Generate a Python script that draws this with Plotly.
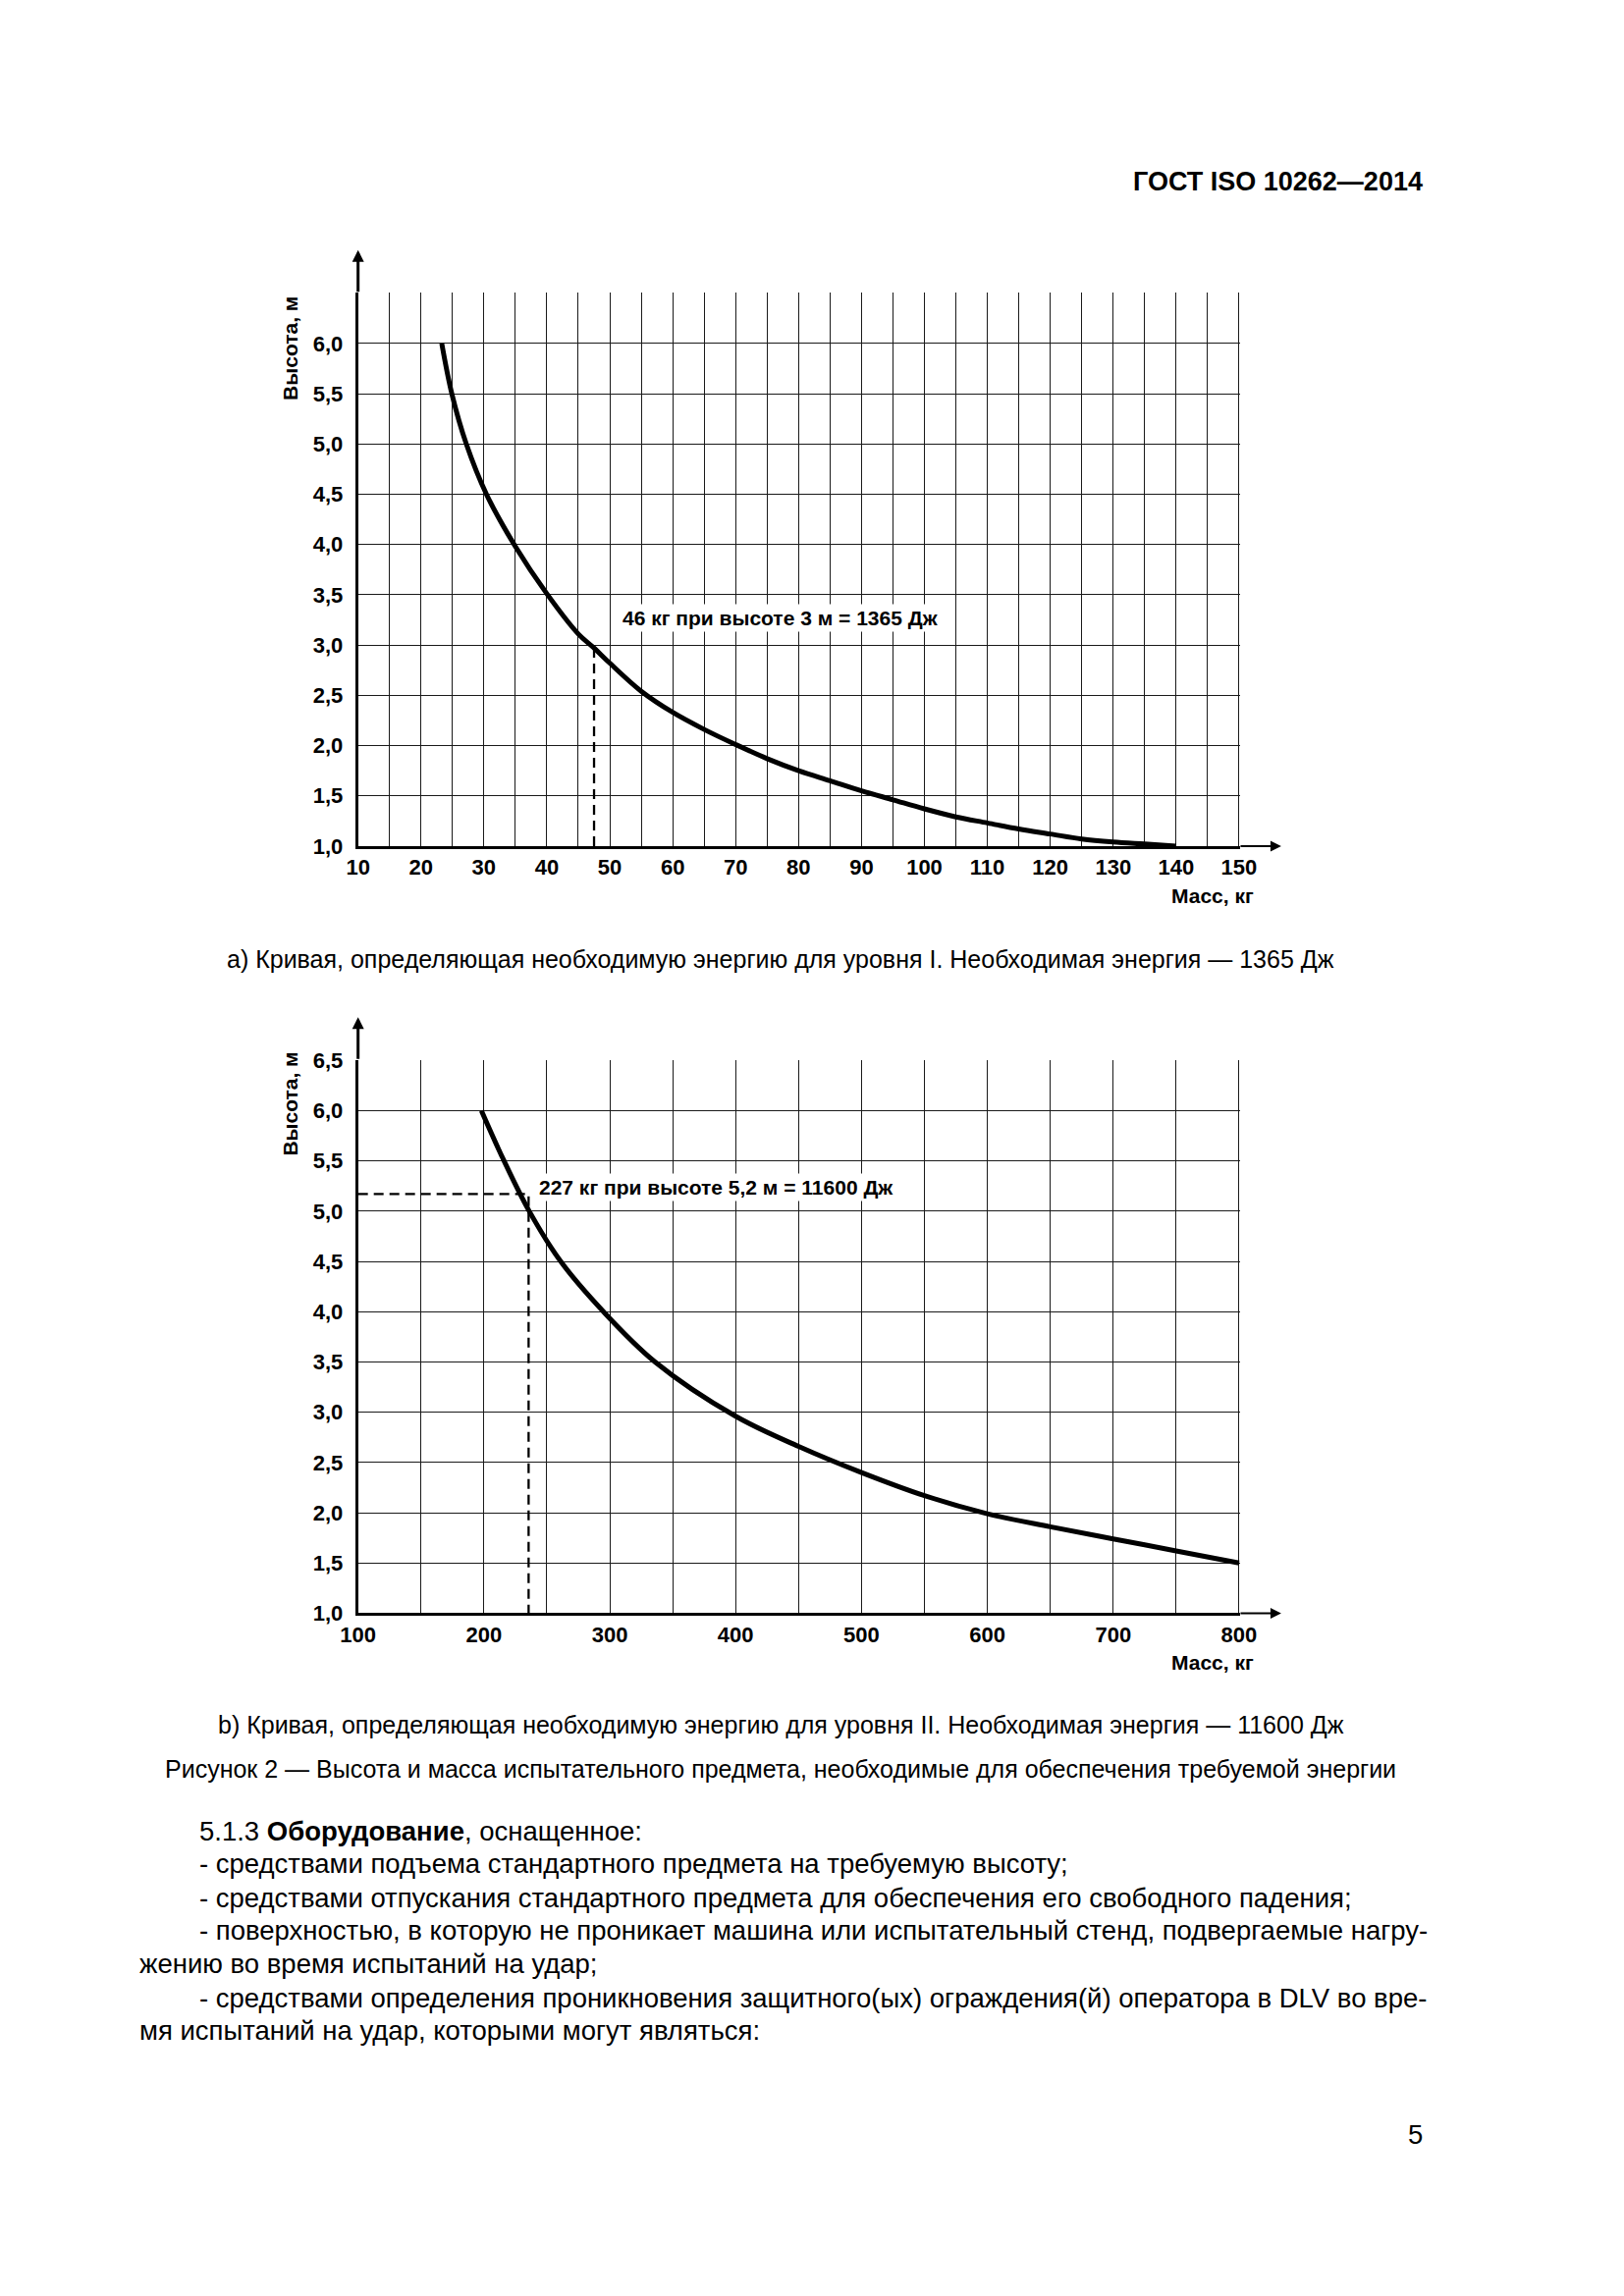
import plotly.graph_objects as go

W, H = 1654, 2339

# ---------------- data: chart a (level I, 1365 J) ----------------
mass_a = [23.3, 24.9, 27.2, 30.4, 35.0, 40.0, 45.0, 47.5, 50.0, 55.0, 60.0, 65.0,
          70.0, 75.0, 80.0, 85.0, 90.0, 95.0, 100.0, 105.0, 110.0, 115.0, 120.0,
          125.0, 130.0, 135.0, 140.0]
height_a = [6.0, 5.5, 5.0, 4.5, 3.98, 3.51, 3.11, 2.97, 2.82, 2.54, 2.33, 2.16,
            2.01, 1.87, 1.75, 1.65, 1.55, 1.46, 1.37, 1.29, 1.23, 1.17, 1.12,
            1.07, 1.04, 1.02, 1.0]
guide_a_mass = 47.5
guide_a_height = 2.97
label_a = "46 кг при высоте 3 м = 1365 Дж"
label_a_pos = (51.5, 3.27)

# ---------------- data: chart b (level II, 11600 J) ----------------
mass_b = [198, 216, 236, 261, 295, 336, 400, 450, 500, 550, 600, 650, 700, 750, 800]
height_b = [6.0, 5.5, 5.0, 4.5, 4.0, 3.5, 2.96, 2.66, 2.40, 2.17, 1.99, 1.86,
            1.74, 1.62, 1.50]
guide_b_mass = 235.5
guide_b_height = 5.17
label_b = "227 кг при высоте 5,2 м = 11600 Дж"
label_b_pos = (241.8, 5.24)

# ---------------- tick labels ----------------
x_ticks_a = [10, 20, 30, 40, 50, 60, 70, 80, 90, 100, 110, 120, 130, 140, 150]
x_ticks_b = [100, 200, 300, 400, 500, 600, 700, 800]
y_vals = [1.0, 1.5, 2.0, 2.5, 3.0, 3.5, 4.0, 4.5, 5.0, 5.5, 6.0, 6.5]
y_text_a = ["1,0", "1,5", "2,0", "2,5", "3,0", "3,5", "4,0", "4,5", "5,0", "5,5", "6,0", ""]
y_text_b = ["1,0", "1,5", "2,0", "2,5", "3,0", "3,5", "4,0", "4,5", "5,0", "5,5", "6,0", "6,5"]

FONT = "Liberation Sans, Arial, sans-serif"
GRID = "#1a1a1a"

def px(x):
    return x / W

def py(y):
    return 1 - y / H

X0, X1 = 346, 1264
A_TOP, A_BOT = 281, 851
B_TOP, B_BOT = 1071, 1641

fig = go.Figure()

fig.add_trace(go.Scatter(x=mass_a, y=height_a, mode="lines", xaxis="x", yaxis="y",
                         line=dict(color="black", width=5, shape="spline", smoothing=1.0),
                         hoverinfo="skip"))
fig.add_trace(go.Scatter(x=[guide_a_mass, guide_a_mass], y=[1.0, guide_a_height], mode="lines",
                         xaxis="x", yaxis="y",
                         line=dict(color="black", width=2.3, dash="10px,6px")))

fig.add_trace(go.Scatter(x=mass_b, y=height_b, mode="lines", xaxis="x2", yaxis="y2",
                         line=dict(color="black", width=5, shape="spline", smoothing=1.0),
                         hoverinfo="skip"))
fig.add_trace(go.Scatter(x=[100, guide_b_mass, guide_b_mass], y=[guide_b_height, guide_b_height, 1.0],
                         mode="lines", xaxis="x2", yaxis="y2",
                         line=dict(color="black", width=2.3, dash="10px,6px")))

tickfont = dict(family=FONT, size=22, color="black", weight="bold")

common_x = dict(showline=True, linewidth=3, linecolor="black", showgrid=True,
                gridcolor=GRID, gridwidth=1.4, zeroline=False, ticks="",
                tickfont=tickfont, fixedrange=True, tickmode="linear")
common_y = dict(showline=True, linewidth=3, linecolor="black", showgrid=True,
                gridcolor=GRID, gridwidth=1.4, zeroline=False, ticks="",
                tickfont=tickfont, fixedrange=True, tickmode="array", tickvals=y_vals,
                ticklabelstandoff=8)

fig.update_layout(
    width=W, height=H, margin=dict(l=0, r=0, t=0, b=0),
    paper_bgcolor="white", plot_bgcolor="white", showlegend=False,
    xaxis=dict(common_x, domain=[px(X0), px(X1)], range=[10, 150.2], tick0=x_ticks_a[0],
               dtick=x_ticks_a[1] - x_ticks_a[0], anchor="y",
               minor=dict(dtick=5, tick0=10, showgrid=True, gridcolor=GRID, gridwidth=1.4, ticks="")),
    yaxis=dict(common_y, domain=[py(A_BOT), py(A_TOP)], range=[1.0, 6.507], ticktext=y_text_a,
               anchor="x"),
    xaxis2=dict(common_x, domain=[px(X0), px(X1)], range=[100, 801], tick0=x_ticks_b[0],
                dtick=x_ticks_b[1] - x_ticks_b[0], anchor="y2",
                minor=dict(dtick=50, tick0=100, showgrid=True, gridcolor=GRID, gridwidth=1.4, ticks="")),
    yaxis2=dict(common_y, domain=[py(B_BOT), py(B_TOP)], range=[1.0, 6.507], ticktext=y_text_b,
                anchor="x2"),
)

ann = []
for xr, yr, xmin, xend, xtip, ttl_y in (("x", "y", 10, 150, 156.7, 0.899),
                                        ("x2", "y2", 100, 800, 833.5, 0.920)):
    ann.append(dict(x=xtip, y=1.0, ax=xend, ay=1.0, xref=xr, yref=yr, axref=xr, ayref=yr,
                    text="", showarrow=True, arrowhead=2, arrowsize=1.1, arrowwidth=2.0,
                    arrowcolor="black"))
    ann.append(dict(x=xmin, y=6.93, ax=xmin, ay=6.5, xref=xr, yref=yr, axref=xr, ayref=yr,
                    text="", showarrow=True, arrowhead=2, arrowsize=0.8, arrowwidth=3,
                    arrowcolor="black"))
    ann.append(dict(x=-0.0765, y=ttl_y, xref=xr + " domain", yref=yr + " domain",
                    text="Высота, м", textangle=-90, showarrow=False,
                    xanchor="center", yanchor="middle",
                    font=dict(family=FONT, size=21, color="black", weight="bold")))
    ann.append(dict(x=1.0174, y=-0.0895, xref=xr + " domain", yref=yr + " domain",
                    text="Масс, кг", showarrow=False, xanchor="right", yanchor="middle",
                    font=dict(family=FONT, size=21, color="black", weight="bold")))

ann.append(dict(x=label_a_pos[0], y=label_a_pos[1], xref="x", yref="y", text=label_a,
                showarrow=False, xanchor="left", yanchor="middle", bgcolor="white", borderpad=2,
                font=dict(family=FONT, size=21, color="black", weight="bold")))
ann.append(dict(x=label_b_pos[0], y=label_b_pos[1], xref="x2", yref="y2", text=label_b,
                showarrow=False, xanchor="left", yanchor="middle", bgcolor="white", borderpad=2,
                font=dict(family=FONT, size=21, color="black", weight="bold")))

body = dict(family=FONT, size=27.5, color="black")
caption = dict(family=FONT, size=25, color="black")
ann.append(dict(x=px(1456), y=py(167), xref="paper", yref="paper", text="<b>ГОСТ ISO 10262—2014</b>",
                showarrow=False, xanchor="right", yanchor="middle",
                font=dict(family=FONT, size=27, color="black")))
centered = [
    (967, "a) Кривая, определяющая необходимую энергию для уровня I. Необходимая энергия — 1365 Дж"),
    (1756, "b) Кривая, определяющая необходимую энергию для уровня II. Необходимая энергия — 11600 Дж"),
    (1801, "Рисунок 2 — Высота и масса испытательного предмета, необходимые для обеспечения требуемой энергии"),
]
for yy, t in centered:
    ann.append(dict(x=px(786), y=py(yy), xref="paper", yref="paper", text=t, showarrow=False,
                    xanchor="center", yanchor="middle", font=caption))

lines = [
    (179, 1865, "5.1.3 <b>Оборудование</b>, оснащенное:"),
    (179, 1899, "- средствами подъема стандартного предмета на требуемую высоту;"),
    (179, 1934, "- средствами отпускания стандартного предмета для обеспечения его свободного падения;"),
    (179, 1968, "- поверхностью, в которую не проникает машина или испытательный стенд, подвергаемые нагру-"),
    (116, 2002, "жению во время испытаний на удар;"),
    (179, 2037, "- средствами определения проникновения защитного(ых) ограждения(й) оператора в DLV во вре-"),
    (116, 2071, "мя испытаний на удар, которыми могут являться:"),
]
for xx, yy, t in lines:
    ann.append(dict(x=px(xx), y=py(yy), xref="paper", yref="paper", text=t, showarrow=False,
                    xanchor="left", yanchor="middle", font=body))
ann.append(dict(x=px(1456), y=py(2178), xref="paper", yref="paper", text="5", showarrow=False,
                xanchor="right", yanchor="middle", font=body))

fig.update_layout(annotations=ann)
fig.write_html("out.html")
